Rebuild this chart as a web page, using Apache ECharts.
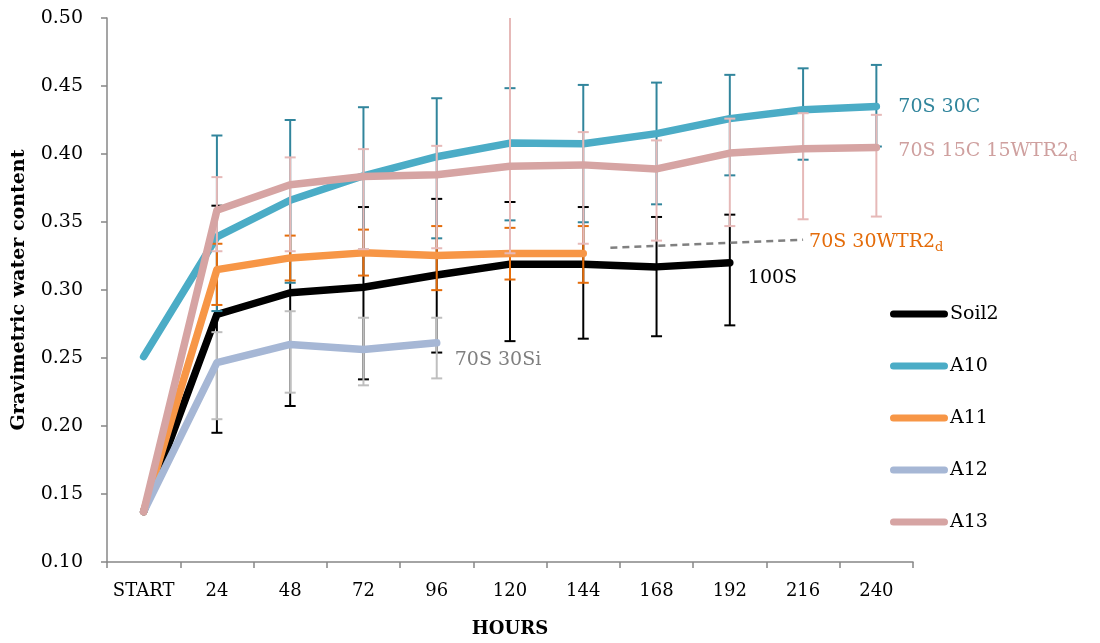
<!DOCTYPE html>
<html>
<head>
<meta charset="utf-8">
<script src="https://cdn.jsdelivr.net/npm/echarts@6/dist/echarts.min.js"></script>
<style>
html,body{margin:0;padding:0;background:#fff;}
#chart{width:1100px;height:643px;}
</style>
</head>
<body>
<div id="chart"></div>
<script>
// ---- data ----
const categories = ['START','24','48','72','96','120','144','168','192','216','240'];
const yTicks = [0.10,0.15,0.20,0.25,0.30,0.35,0.40,0.45,0.50];

const soil2 = [0.137, 0.282, 0.298, 0.302, 0.311, 0.319, 0.319, 0.317, 0.320];
const a10   = [0.251, 0.339, 0.366, 0.384, 0.398, 0.408, 0.4075, 0.415, 0.426, 0.4325, 0.435];
const a11   = [0.137, 0.315, 0.3236, 0.3273, 0.3253, 0.3268, 0.3268];
const a12   = [0.137, 0.2466, 0.260, 0.2563, 0.2612];
const a13   = [0.137, 0.3586, 0.3774, 0.3835, 0.3848, 0.391, 0.392, 0.389, 0.4007, 0.4039, 0.4048];

// error bar ends (low, high) per point; null = no bar
const soil2Lo = [null, 0.195, 0.2147, 0.2343, 0.254, 0.2624, 0.2642, 0.266, 0.274];
const soil2Hi = [null, 0.362, 0.366, 0.361, 0.367, 0.3647, 0.361, 0.3537, 0.3554];
const a10Lo = [null, 0.2845, 0.3053, 0.3297, 0.338, 0.3512, 0.3498, 0.363, 0.3843, 0.3958, 0.4055];
const a10Hi = [null, 0.4136, 0.425, 0.4344, 0.441, 0.4484, 0.4508, 0.4525, 0.4582, 0.463, 0.4655];
const a11Lo = [null, 0.289, 0.307, 0.3106, 0.2999, 0.3077, 0.3053];
const a11Hi = [null, 0.334, 0.340, 0.3444, 0.347, 0.3457, 0.347];
const a12Lo = [null, 0.205, 0.2245, 0.2299, 0.235];
const a12Hi = [null, 0.269, 0.2844, 0.2796, 0.2796];
const a13Lo = [null, 0.3285, 0.3285, 0.330, 0.3307, 0.327, 0.334, 0.3363, 0.347, 0.352, 0.354];
const a13Hi = [null, 0.383, 0.3975, 0.4036, 0.406, 0.53, 0.4161, 0.410, 0.426, 0.430, 0.4288];

// dashed leader for the A11 annotation (category-index x, value y)
const leaderX = [6.37, 9.0];
const leaderY = [0.331, 0.337];

// ---- chart ----
const FONT = 'DejaVu Serif';
const chart = echarts.init(document.getElementById('chart'), null, {renderer: 'canvas'});

function errData(lo, hi) {
  const out = [];
  for (let i = 0; i < lo.length; i++) {
    if (lo[i] != null && hi[i] != null) out.push([i, lo[i], hi[i]]);
  }
  return out;
}
function errSeries(name, lo, hi, color, lw, z) {
  return {
    type: 'custom', name: name + ' err', xAxisIndex: 1, clip: true, z: z, silent: true,
    encode: {x: 0, y: [1, 2]},
    data: errData(lo, hi),
    renderItem: function (params, api) {
      const x = api.value(0), lo = api.value(1), hi = api.value(2);
      const pl = api.coord([x, lo]), ph = api.coord([x, hi]);
      const h = 5.5;
      const st = {stroke: color, lineWidth: lw};
      return {type: 'group', children: [
        {type: 'line', shape: {x1: pl[0], y1: pl[1], x2: ph[0], y2: ph[1]}, style: st},
        {type: 'line', shape: {x1: pl[0] - h, y1: pl[1], x2: pl[0] + h, y2: pl[1]}, style: st},
        {type: 'line', shape: {x1: ph[0] - h, y1: ph[1], x2: ph[0] + h, y2: ph[1]}, style: st}
      ]};
    }
  };
}
function lineSeries(name, data, color, z, endLabel) {
  const s = {
    type: 'line', name: name, data: data, z: z,
    symbol: 'none', showSymbol: false,
    lineStyle: {color: color, width: 7.5, cap: 'round', join: 'round'},
    itemStyle: {color: color},
    emphasis: {disabled: true}
  };
  if (endLabel) s.endLabel = endLabel;
  return s;
}
const rich = function (color) {
  return {
    a: {fontFamily: FONT, fontSize: 19, color: color},
    s: {fontFamily: FONT, fontSize: 13, color: color, padding: [12, 0, 0, 0]}
  };
};

const option = {
  animation: false,
  backgroundColor: '#ffffff',
  grid: {left: 107, right: 187, top: 18, bottom: 80, containLabel: false},
  legend: {
    orient: 'vertical', left: 885, top: 299, itemGap: 32,
    itemWidth: 58, itemHeight: 7,
    icon: 'path://M3.5,0 L54.5,0 A3.5,3.5 0 0 1 54.5,7 L3.5,7 A3.5,3.5 0 0 1 3.5,0 Z',
    textStyle: {fontFamily: FONT, fontSize: 19, color: '#000', lineHeight: 20, padding: [0, 0, 0, -3]},
    data: ['Soil2', 'A10', 'A11', 'A12', 'A13'],
    selectedMode: false
  },
  xAxis: [{
    type: 'category', data: categories, boundaryGap: true,
    name: 'HOURS', nameLocation: 'middle', nameGap: 58,
    nameTextStyle: {fontFamily: FONT, fontSize: 18, fontWeight: 'bold', color: '#000'},
    axisLine: {lineStyle: {color: '#878787', width: 1.5}},
    axisTick: {show: true, length: 6, interval: 0, lineStyle: {color: '#878787', width: 1.5}},
    axisLabel: {fontFamily: FONT, fontSize: 18, color: '#000', margin: 20, interval: 0},
    splitLine: {show: false}
  }, {
    type: 'value', min: -0.5, max: categories.length - 0.5, show: false
  }],
  yAxis: {
    type: 'value', min: yTicks[0], max: yTicks[yTicks.length - 1], interval: 0.05,
    name: 'Gravimetric water content', nameLocation: 'middle', nameGap: 78,
    nameTextStyle: {fontFamily: FONT, fontSize: 19, fontWeight: 'bold', color: '#000'},
    axisLine: {show: true, onZero: false, lineStyle: {color: '#878787', width: 1.5}},
    axisTick: {show: true, length: 6, lineStyle: {color: '#878787', width: 1.5}},
    axisLabel: {fontFamily: FONT, fontSize: 19, color: '#000', margin: 24,
      formatter: function (v) { return v.toFixed(2); }},
    splitLine: {show: false}
  },
  series: [
    errSeries('Soil2', soil2Lo, soil2Hi, '#000000', 2, 1),
    lineSeries('Soil2', soil2, '#000000', 2, {
      show: true, formatter: '100S', distance: 18, offset: [0, 15],
      fontFamily: FONT, fontSize: 19, color: '#000'
    }),
    errSeries('A10', a10Lo, a10Hi, '#31859C', 2, 3),
    lineSeries('A10', a10, '#4BACC6', 4, {
      show: true, formatter: '70S 30C', distance: 22, offset: [0, 1],
      fontFamily: FONT, fontSize: 19, color: '#31859C'
    }),
    errSeries('A11', a11Lo, a11Hi, '#E46C0A', 2, 5),
    lineSeries('A11', a11, '#F79646', 6, null),
    errSeries('A12', a12Lo, a12Hi, '#BFBFBF', 2, 7),
    lineSeries('A12', a12, '#A6B7D5', 8, {
      show: true, formatter: '70S 30Si', distance: 18, offset: [0, 17],
      fontFamily: FONT, fontSize: 19, color: '#7F7F7F'
    }),
    errSeries('A13', a13Lo, a13Hi, '#E6B9B8', 2, 9),
    lineSeries('A13', a13, '#D6A4A3', 10, {
      show: true, formatter: '{a|70S 15C 15WTR2}{s|d}', distance: 22, offset: [0, 4],
      rich: rich('#CFA09F')
    }),
    {
      type: 'line', name: 'leader', xAxisIndex: 1, z: 11, silent: true,
      data: leaderX.map(function (x, i) { return [x, leaderY[i]]; }),
      symbol: 'none', showSymbol: false,
      lineStyle: {color: '#808080', width: 2.5, type: [7, 5]},
      endLabel: {show: true, formatter: '{a|70S 30WTR2}{s|d}', distance: 6, offset: [0, 2],
        rich: rich('#E46C0A')},
      emphasis: {disabled: true}
    }
  ]
};
chart.setOption(option);
</script>
</body>
</html>
